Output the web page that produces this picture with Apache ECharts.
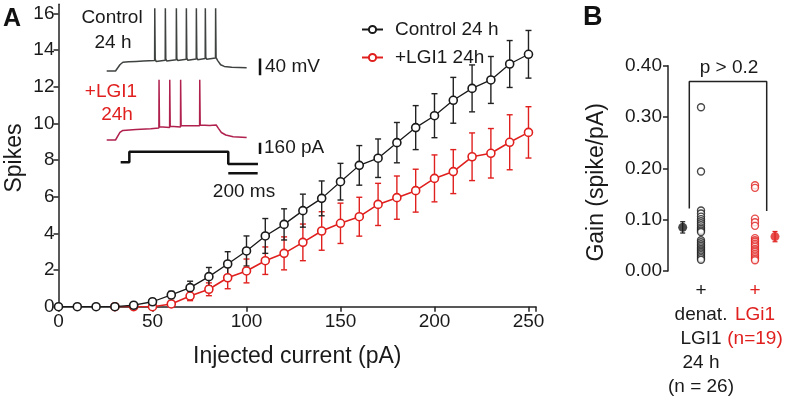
<!DOCTYPE html>
<html>
<head>
<meta charset="utf-8">
<script src="https://cdn.jsdelivr.net/npm/echarts@6/dist/echarts.min.js"></script>
<style>
html,body{margin:0;padding:0;background:#fff;}
#chart{width:796px;height:400px;}
</style>
</head>
<body>
<div id="chart"></div>
<script>
// ---------- Panel A data ----------
const currents = [0,10,20,30,40,50,60,70,80,90,100,110,120,130,140,150,160,170,180,190,200,210,220,230,240,250];
const controlSpikes = [0,0,0,0,0.08,0.27,0.64,1.04,1.64,2.33,3.04,3.86,4.49,5.24,5.91,6.82,7.71,8.1,8.95,9.77,10.42,11.26,11.91,12.37,13.24,13.77];
const controlSEM    = [0,0,0,0,0.04,0.1,0.2,0.35,0.5,0.67,0.82,0.95,0.85,0.9,0.95,1.0,1.08,1.05,1.1,1.2,1.2,1.25,1.28,1.28,1.28,1.3];
const lgiSpikes = [null,null,null,0,0,0,0.15,0.58,0.95,1.58,1.95,2.51,2.91,3.51,4.13,4.55,4.91,5.58,5.95,6.33,7.0,7.37,8.18,8.37,8.97,9.51];
const lgiSEM    = [null,null,null,0,0,0,0.1,0.25,0.35,0.6,0.65,0.75,0.9,1.0,1.05,1.1,1.06,1.15,1.18,1.17,1.28,1.2,1.3,1.35,1.5,1.4];
const xTicksA = [0,50,100,150,200,250];

// ---------- Inset traces (time ms, mV / pA) ----------
const controlTrace = [[0,-70],[60,-70],[72,-67],[90,-55],[110,-49],[150,-48],[200,-47],[250,-46],[326,-45],[327,80],[330,-42],[336,-47],[398,-44],[399,80],[402,-41],[408,-46],[473,-43],[474,80],[477,-40],[483,-45],[541,-42],[542,80],[545,-39],[551,-44],[609,-41],[610,80],[613,-38],[619,-43],[670,-40],[671,80],[674,-37],[680,-42],[740,-39],[741,80],[744,-38],[755,-45],[775,-55],[800,-59],[850,-61],[952,-62]];
const lgiTrace = [[0,-70],[60,-70],[72,-67],[90,-52],[110,-47],[200,-45],[300,-43],[355,-41],[356,74],[359,-38],[365,-42],[428,-40],[429,74],[432,-37],[438,-41],[502,-39],[503,74],[506,-36],[512,-40],[632,-36],[633,74],[636,-34],[642,-37],[700,-35],[745,-34],[760,-42],[780,-52],[810,-58],[860,-62],[952,-64]];
const currentTrace = [[95,0],[154,0],[154,150],[827,150],[827,-24],[1029,-24]];
const mvScaleBar = [[1043,-80],[1043,-40]];
const paScaleBar = [[1043,118],[1043,278]];
const msScaleBar = [[827,-156],[1027,-156]];

// ---------- Panel B data ----------
const groupPos = [3.3, 8.7];
const meanPos = [1.47, 10.7];
const denatGain = [0.319,0.194,0.118,0.112,0.106,0.101,0.097,0.093,0.089,0.085,0.082,0.079,0.076,0.060,0.056,0.052,0.049,0.046,0.043,0.040,0.037,0.034,0.031,0.028,0.025,0.022];
const lgiGain = [0.167,0.162,0.102,0.095,0.088,0.064,0.060,0.057,0.053,0.050,0.047,0.043,0.040,0.037,0.033,0.030,0.027,0.024,0.021];
const denatMean = 0.085, denatSEM = 0.011;
const lgiMean = 0.067, lgiSEM2 = 0.010;
const bracket = [[2.13,0.122],[2.13,0.369],[9.87,0.369],[9.87,0.117]];
const groupLabels = ['+\ndenat.\nLGI1\n24 h\n(n = 26)', '+\nLGi1\n(n=19)'];

const BLACK = '#1a1a1a';
const RED = '#e0201e';
const FONT = 'Liberation Sans, Arial, sans-serif';

function errBar(color, lw, cap) {
  return function (params, api) {
    const x = api.value(0), lo = api.value(1), hi = api.value(2);
    const p1 = api.coord([x, lo]), p2 = api.coord([x, hi]);
    const st = {stroke: color, lineWidth: lw};
    return {type: 'group', children: [
      {type: 'line', shape: {x1: p1[0], y1: p1[1], x2: p2[0], y2: p2[1]}, style: st},
      {type: 'line', shape: {x1: p1[0]-cap, y1: p1[1], x2: p1[0]+cap, y2: p1[1]}, style: st},
      {type: 'line', shape: {x1: p2[0]-cap, y1: p2[1], x2: p2[0]+cap, y2: p2[1]}, style: st}
    ]};
  };
}

const ctrlData = currents.map((c,i)=>[c, controlSpikes[i]]);
const lgiData = currents.map((c,i)=>[c, lgiSpikes[i]]).filter(d=>d[1]!==null);
const ctrlErr = currents.map((c,i)=>[c, controlSpikes[i]-controlSEM[i], controlSpikes[i]+controlSEM[i]]).filter((d,i)=>controlSEM[i]>0);
const lgiErr = currents.map((c,i)=>[c, lgiSpikes[i]-lgiSEM[i], lgiSpikes[i]+lgiSEM[i]]).filter((d,i)=>lgiSEM[i]);

const axisLineStyle = {lineStyle: {color: '#222', width: 1.5}};
const axisTickStyle = {show: true, inside: false, length: 5, lineStyle: {color: '#222', width: 1.5}};

function groupAxis(idx, color) {
  return {gridIndex: 1, type: 'value', min: 0, max: 12, position: 'bottom',
    axisLine: {show: false}, axisTick: {show: false}, splitLine: {show: false},
    axisLabel: {customValues: [groupPos[idx]], fontSize: 19, lineHeight: 24, margin: 8, fontFamily: FONT,
      color: color, hideOverlap: false,
      formatter: function () { return groupLabels[idx]; }}};
}

const option = {
  animation: false,
  backgroundColor: '#fff',
  textStyle: {fontFamily: FONT},
  grid: [
    {left: 58.5, top: 4.25, width: 477.5, height: 302.45, outerBoundsMode: 'none', containLabel: false},
    {left: 668, top: 65.7, width: 120, height: 205.3, outerBoundsMode: 'none', containLabel: false},
    {left: 106.7, top: 0, width: 161.7, height: 180, outerBoundsMode: 'none', containLabel: false}
  ],
  legend: {
    data: ['Control 24 h', '+LGI1 24h'],
    left: 356, top: 15, orient: 'vertical', itemGap: 9,
    itemWidth: 21, itemHeight: 9,
    textStyle: {fontSize: 19, fontFamily: FONT, padding: [0,0,0,7], color: BLACK}
  },
  xAxis: [
    {gridIndex: 0, type: 'value', min: 0, max: 254, interval: 50,
     axisLine: axisLineStyle, axisTick: axisTickStyle, splitLine: {show: false},
     axisLabel: {fontSize: 19, color: BLACK, margin: 6, fontFamily: FONT,
                 customValues: xTicksA},
     name: 'Injected current (pA)', nameLocation: 'middle', nameGap: 38,
     nameTextStyle: {fontSize: 23, color: BLACK, fontFamily: FONT}},
    groupAxis(0, BLACK),
    groupAxis(1, RED),
    {gridIndex: 2, type: 'value', min: 0, max: 1100, show: false}
  ],
  yAxis: [
    {gridIndex: 0, type: 'value', min: 0, max: 16.5, interval: 2,
     axisLine: {show: true, lineStyle: {color: '#222', width: 1.5}}, axisTick: axisTickStyle, splitLine: {show: false},
     axisLabel: {fontSize: 19, color: BLACK, margin: 4, fontFamily: FONT, showMaxLabel: false}},
    {gridIndex: 1, type: 'value', min: 0, max: 0.4, interval: 0.1,
     axisLine: {show: true, lineStyle: {color: '#222', width: 1.5}}, axisTick: axisTickStyle, splitLine: {show: false},
     axisLabel: {fontSize: 19, color: BLACK, margin: 6, fontFamily: FONT, formatter: v => v.toFixed(2)},
     name: 'Gain (spike/pA)', nameLocation: 'middle', nameGap: 60,
     nameTextStyle: {fontSize: 23, color: BLACK, fontFamily: FONT, padding: [0, 28, 0, 0]}},
    {gridIndex: 2, type: 'value', min: -331, max: 100, show: false},
    {gridIndex: 2, type: 'value', min: -165.8, max: 265.3, show: false},
    {gridIndex: 2, type: 'value', min: -250.7, max: 2299, show: false}
  ],
  series: [
    // Panel A error bars
    {type: 'custom', xAxisIndex: 0, yAxisIndex: 0, renderItem: errBar(RED, 1.4, 3), data: lgiErr, z: 1, silent: true},
    {type: 'custom', xAxisIndex: 0, yAxisIndex: 0, renderItem: errBar('#222', 1.4, 3), data: ctrlErr, z: 1, silent: true},
    {name: '+LGI1 24h', type: 'line', xAxisIndex: 0, yAxisIndex: 0, data: lgiData,
     symbol: 'circle', symbolSize: 8, z: 3,
     lineStyle: {color: RED, width: 1.6},
     itemStyle: {color: '#fff', borderColor: RED, borderWidth: 1.6}},
    {name: 'Control 24 h', type: 'line', xAxisIndex: 0, yAxisIndex: 0, data: ctrlData,
     symbol: 'circle', symbolSize: 8, z: 4,
     lineStyle: {color: BLACK, width: 1.3},
     itemStyle: {color: '#fff', borderColor: BLACK, borderWidth: 1.6}},
    // Panel B
    {type: 'scatter', xAxisIndex: 1, yAxisIndex: 1, data: denatGain.map(v=>[groupPos[0], v]),
     symbol: 'circle', symbolSize: 7, itemStyle: {color: '#fff', borderColor: BLACK, borderWidth: 1.4}, z: 3},
    {type: 'scatter', xAxisIndex: 1, yAxisIndex: 1, data: lgiGain.map(v=>[groupPos[1], v]),
     symbol: 'circle', symbolSize: 7, itemStyle: {color: '#fff', borderColor: RED, borderWidth: 1.4}, z: 3},
    {type: 'custom', xAxisIndex: 1, yAxisIndex: 1, renderItem: errBar(BLACK, 1.2, 2.5),
     data: [[meanPos[0], denatMean-denatSEM, denatMean+denatSEM]], z: 2},
    {type: 'custom', xAxisIndex: 1, yAxisIndex: 1, renderItem: errBar(RED, 1.2, 2.5),
     data: [[meanPos[1], lgiMean-lgiSEM2, lgiMean+lgiSEM2]], z: 2},
    {type: 'scatter', xAxisIndex: 1, yAxisIndex: 1, data: [[meanPos[0], denatMean]],
     symbol: 'circle', symbolSize: 9, itemStyle: {color: BLACK}, z: 3},
    {type: 'scatter', xAxisIndex: 1, yAxisIndex: 1, data: [[meanPos[1], lgiMean]],
     symbol: 'circle', symbolSize: 9, itemStyle: {color: RED}, z: 3},
    {type: 'line', xAxisIndex: 1, yAxisIndex: 1, data: bracket, symbol: 'none',
     lineStyle: {color: '#222', width: 1.5}, z: 1},
    // Inset traces
    {type: 'line', xAxisIndex: 3, yAxisIndex: 2, data: controlTrace, symbol: 'none',
     lineStyle: {color: '#3f4340', width: 1.5}},
    {type: 'line', xAxisIndex: 3, yAxisIndex: 3, data: lgiTrace, symbol: 'none',
     lineStyle: {color: '#b0214e', width: 1.5}},
    {type: 'line', xAxisIndex: 3, yAxisIndex: 4, data: currentTrace, symbol: 'none',
     lineStyle: {color: '#111', width: 2.5}},
    {type: 'line', xAxisIndex: 3, yAxisIndex: 2, data: mvScaleBar, symbol: 'none',
     lineStyle: {color: '#111', width: 2.5}},
    {type: 'line', xAxisIndex: 3, yAxisIndex: 4, data: paScaleBar, symbol: 'none',
     lineStyle: {color: '#111', width: 2.5}},
    {type: 'line', xAxisIndex: 3, yAxisIndex: 4, data: msScaleBar, symbol: 'none',
     lineStyle: {color: '#111', width: 2.5}}
  ],
  graphic: [
    {type: 'text', left: 3, top: 7, style: {text: 'A', font: 'bold 25px ' + FONT, fill: '#111'}},
    {type: 'text', left: 583, top: 4, style: {text: 'B', font: 'bold 27px ' + FONT, fill: '#111'}},
    {type: 'text', x: 15, y: 158, rotation: Math.PI / 2, style: {text: 'Spikes', font: '23px ' + FONT, fill: BLACK, textAlign: 'center', textVerticalAlign: 'middle'}},
    {type: 'text', x: 112, y: 18, style: {text: 'Control', font: '19px ' + FONT, fill: BLACK, textAlign: 'center', textVerticalAlign: 'middle'}},
    {type: 'text', x: 113, y: 43, style: {text: '24 h', font: '19px ' + FONT, fill: BLACK, textAlign: 'center', textVerticalAlign: 'middle'}},
    {type: 'text', x: 111, y: 92, style: {text: '+LGI1', font: '19px ' + FONT, fill: RED, textAlign: 'center', textVerticalAlign: 'middle'}},
    {type: 'text', x: 117, y: 115, style: {text: '24h', font: '19px ' + FONT, fill: RED, textAlign: 'center', textVerticalAlign: 'middle'}},
    {type: 'text', x: 265, y: 67, style: {text: '40 mV', font: '19px ' + FONT, fill: BLACK, textAlign: 'left', textVerticalAlign: 'middle'}},
    {type: 'text', x: 264, y: 148, style: {text: '160 pA', font: '19px ' + FONT, fill: BLACK, textAlign: 'left', textVerticalAlign: 'middle'}},
    {type: 'text', x: 244, y: 192, style: {text: '200 ms', font: '19px ' + FONT, fill: BLACK, textAlign: 'center', textVerticalAlign: 'middle'}},
    {type: 'text', x: 729, y: 68, style: {text: 'p > 0.2', font: '19px ' + FONT, fill: BLACK, textAlign: 'center', textVerticalAlign: 'middle'}}
  ]
};

const chart = echarts.init(document.getElementById('chart'), null, {renderer: 'canvas'});
chart.setOption(option);
</script>
</body>
</html>
